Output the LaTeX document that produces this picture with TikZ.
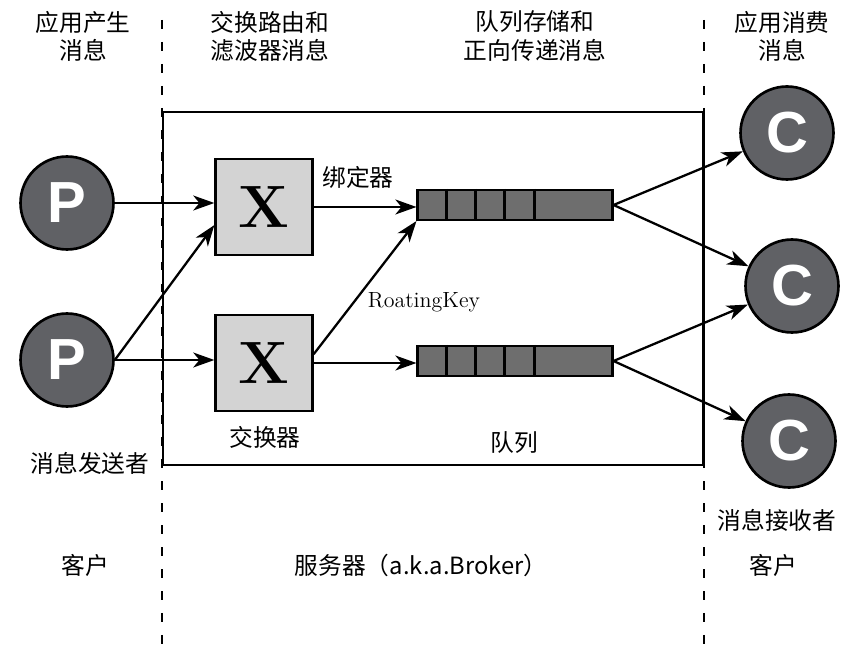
\documentclass[tikz,border=0pt]{standalone}
\usepackage{fontspec}
\setsansfont{Liberation Sans}
\newfontfamily\cjk{Noto Sans CJK SC}
\usetikzlibrary{arrows.meta}
\definecolor{roundfill}{HTML}{606165}
\definecolor{boxfill}{HTML}{D3D3D3}
\definecolor{queuefill}{HTML}{6E6E6E}
\begin{document}
\begin{tikzpicture}[x=0.02cm,y=-0.02cm,
    >={Stealth[length=12pt,width=8.5pt,inset=3.5pt]},
    role/.style={circle,draw=black,line width=1.5pt,fill=roundfill,text=white,inner sep=0pt,
        minimum size=1.86cm,font=\sffamily\bfseries\fontsize{33}{33}\selectfont},
    exchange/.style={rectangle,draw=black,line width=1.6pt,fill=boxfill,inner sep=0pt,
        minimum width=1.93cm,minimum height=1.92cm,font=\rmfamily\bfseries\fontsize{34}{34}\selectfont},
    queue/.style={rectangle,draw=black,line width=1.2pt,fill=queuefill,inner sep=0pt,
        minimum width=3.9cm,minimum height=0.6cm},
    flow/.style={->,line width=1.3pt},
    caption/.style={font=\cjk\fontsize{13.5}{16}\selectfont,align=center,inner sep=0pt},
    divider/.style={dash pattern=on 5pt off 7.5pt,line width=1.1pt}]
    \useasboundingbox (0,0) rectangle (858,648);
    % Coordinates
    \coordinate (L1) at (162,20);
    \coordinate (L2) at (162,648);
    \coordinate (R1) at (704,20);
    \coordinate (R2) at (704,648);
    \coordinate (B1) at (163,112);
    \coordinate (B2) at (703,465);
    % Lines and frame
    \draw[divider] (L1) -- (L2);
    \draw[divider] (R1) -- (R2);
    \draw[line width=1.7pt] (B1) rectangle (B2);
    % Nodes
    \node[role] (P1) at (67,203) {P};
    \node[role] (P2) at (67,360) {P};
    \node[exchange] (X1) at (264,207) {X};
    \node[exchange] (X2) at (264,363) {X};
    \node[queue] (Q1) at (515,205) {};
    \node[queue] (Q2) at (515,361) {};
    \node[role] (C1) at (787,133) {C};
    \node[role] (C2) at (792,286) {C};
    \node[role] (C3) at (789,441) {C};
    % Queue cells
    \foreach \q in {Q1,Q2}
        \foreach \d in {30,59,88,118}
            \draw[line width=1.2pt] (\q.north west) ++(\d,0) -- ++(0,31);
    % Labels
    \node[caption] (T1) at (83,36) {应用产生\\消息};
    \node[caption] (T2) at (270,36) {交换路由和\\滤波器消息};
    \node[caption] (T3) at (535,36) {队列存储和\\正向传递消息};
    \node[caption] (T4) at (782,36) {应用消费\\消息};
    \node[caption] (bind) at (358,177) {绑定器};
    \node[font=\fontsize{12.5}{14}\selectfont,inner sep=0pt] (key) at (424,302) {RoatingKey};
    \node[caption] (xname) at (265,437) {交换器};
    \node[caption] (qname) at (514,443) {队列};
    \node[caption] (send) at (90,463) {消息发送者};
    \node[caption] (recv) at (777,520) {消息接收者};
    \node[caption] (cl1) at (85,565) {客户};
    \node[caption] (srv) at (421,565) {服务器（a.k.a.Broker）};
    \node[caption] (cl2) at (773,565) {客户};
    % Arrows
    \draw[flow] (P1.east) -- (P1.east -| X1.west);
    \draw[flow] (P2.east) -- (X1.200);
    \draw[flow] (P2.east) -- (P2.east -| X2.west);
    \draw[flow] (X1.east) -- (X1.east -| Q1.west);
    \draw[flow] (X2.10) -- (Q1.south west);
    \draw[flow] (X2.east) -- (X2.east -| Q2.west);
    \draw[flow] (Q1.east) -- (C1);
    \draw[flow] (Q1.east) -- (C2);
    \draw[flow] (Q2.east) -- (C2);
    \draw[flow] (Q2.east) -- (C3);
\end{tikzpicture}
\end{document}
